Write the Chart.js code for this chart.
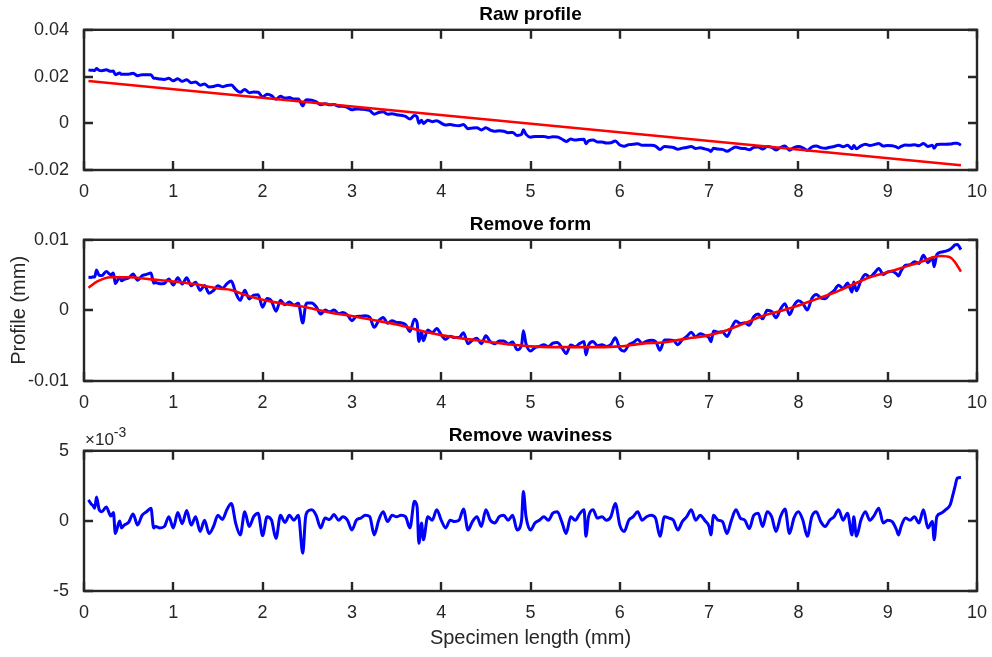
<!DOCTYPE html>
<html>
<head>
<meta charset="utf-8">
<title>Surface profile filtering</title>
<script src="https://cdn.jsdelivr.net/npm/chart.js@4.4.1/dist/chart.umd.min.js"></script>
<style>
  html, body { margin: 0; padding: 0; background: #ffffff; }
  #fig { position: relative; width: 992px; height: 657px; overflow: hidden; background: #ffffff; }
  #fig canvas { position: absolute; left: 0; }
</style>
</head>
<body>
<div id="fig">
  <canvas id="rawChart" width="992" height="210" style="top:0px"></canvas>
  <canvas id="formChart" width="992" height="211" style="top:210px"></canvas>
  <canvas id="roughChart" width="992" height="236" style="top:421px"></canvas>
</div>
<script>
// Sampling positions along the specimen (mm)
const positionMM = [
  0.05,0.08,0.10,0.12,0.14,0.17,0.20,0.25,0.30,0.33,
  0.35,0.40,0.42,0.45,0.50,0.55,0.60,0.65,0.70,0.75,
  0.78,0.80,0.85,0.90,0.95,1.00,1.05,1.10,1.15,1.20,
  1.25,1.30,1.35,1.40,1.45,1.50,1.55,1.60,1.65,1.70,
  1.75,1.80,1.85,1.90,1.95,2.00,2.05,2.10,2.15,2.20,
  2.25,2.30,2.35,2.40,2.45,2.48,2.50,2.55,2.60,2.65,
  2.70,2.75,2.80,2.85,2.90,2.95,3.00,3.05,3.10,3.15,
  3.20,3.25,3.30,3.35,3.40,3.45,3.50,3.55,3.60,3.65,
  3.70,3.73,3.75,3.78,3.80,3.85,3.90,3.95,4.00,4.05,
  4.10,4.15,4.20,4.25,4.30,4.35,4.40,4.45,4.50,4.55,
  4.60,4.65,4.70,4.75,4.80,4.85,4.90,4.92,4.95,5.00,
  5.05,5.10,5.15,5.20,5.25,5.30,5.35,5.40,5.45,5.50,
  5.55,5.60,5.62,5.65,5.70,5.75,5.80,5.85,5.90,5.95,
  6.00,6.05,6.10,6.15,6.20,6.25,6.30,6.35,6.40,6.45,
  6.50,6.55,6.60,6.65,6.70,6.75,6.80,6.85,6.90,6.95,
  7.00,7.02,7.05,7.10,7.15,7.20,7.25,7.30,7.35,7.40,
  7.45,7.50,7.55,7.60,7.65,7.70,7.75,7.80,7.85,7.90,
  7.95,8.00,8.05,8.10,8.15,8.20,8.25,8.30,8.35,8.40,
  8.45,8.50,8.55,8.60,8.62,8.65,8.70,8.75,8.80,8.85,
  8.90,8.95,9.00,9.05,9.10,9.12,9.15,9.20,9.25,9.30,
  9.35,9.40,9.45,9.50,9.52,9.55,9.60,9.65,9.70,9.73,
  9.75,9.78,9.82
];

// Measured raw profile (mm)
const rawProfile = [
  0.02280,0.02265,0.02266,0.02257,0.02347,0.02263,0.02249,0.02286,0.02222,0.02236,
  0.02079,0.02150,0.02093,0.02102,0.02103,0.02139,0.02034,0.02080,0.02080,0.02081,
  0.01926,0.01926,0.01892,0.01877,0.01923,0.01819,0.01902,0.01796,0.01864,0.01733,
  0.01766,0.01631,0.01680,0.01555,0.01574,0.01624,0.01568,0.01614,0.01633,0.01447,
  0.01324,0.01448,0.01307,0.01341,0.01330,0.01134,0.01239,0.01183,0.01023,0.01157,
  0.01077,0.01098,0.01035,0.01041,0.00743,0.00976,0.01009,0.00992,0.00919,0.00797,
  0.00834,0.00792,0.00799,0.00730,0.00727,0.00673,0.00575,0.00614,0.00599,0.00588,
  0.00548,0.00387,0.00462,0.00491,0.00391,0.00405,0.00365,0.00340,0.00296,0.00181,
  0.00337,0.00276,0.00002,0.00128,-0.00005,0.00127,0.00070,0.00112,0.00005,-0.00078,
  -0.00052,-0.00090,-0.00109,-0.00057,-0.00234,-0.00200,-0.00192,-0.00288,-0.00195,-0.00296,
  -0.00343,-0.00324,-0.00341,-0.00402,-0.00392,-0.00521,-0.00476,-0.00280,-0.00475,-0.00595,
  -0.00565,-0.00565,-0.00561,-0.00606,-0.00577,-0.00585,-0.00674,-0.00777,-0.00676,-0.00719,
  -0.00693,-0.00681,-0.00879,-0.00750,-0.00718,-0.00797,-0.00803,-0.00845,-0.00836,-0.00758,
  -0.00929,-0.00984,-0.00915,-0.00900,-0.00876,-0.00946,-0.00936,-0.00940,-0.00975,-0.01119,
  -0.00994,-0.01012,-0.01036,-0.01114,-0.01063,-0.01036,-0.00995,-0.01078,-0.01052,-0.01095,
  -0.01149,-0.01209,-0.01070,-0.01105,-0.01117,-0.01202,-0.01101,-0.01019,-0.01073,-0.01081,
  -0.01135,-0.01033,-0.01012,-0.01100,-0.00997,-0.01032,-0.01139,-0.01034,-0.00978,-0.01151,
  -0.01040,-0.00993,-0.01048,-0.01160,-0.01015,-0.00977,-0.01042,-0.01074,-0.01024,-0.00996,
  -0.00936,-0.01003,-0.00943,-0.01090,-0.00956,-0.01090,-0.00967,-0.00897,-0.00949,-0.00914,
  -0.00866,-0.00971,-0.00953,-0.00961,-0.01019,-0.01054,-0.00993,-0.00931,-0.00945,-0.00918,
  -0.00962,-0.00865,-0.00989,-0.00937,-0.01071,-0.00911,-0.00894,-0.00898,-0.00891,-0.00868,
  -0.00850,-0.00851,-0.00941
];

// Least-squares form line (mm)
const formLineX = [0.05, 9.82];
const formLineY = [0.0181, -0.0180];

// Profile after form removal (mm)
const formRemoved = [
  0.00470,0.00467,0.00475,0.00473,0.00571,0.00498,0.00495,0.00550,0.00505,0.00530,
  0.00380,0.00470,0.00420,0.00440,0.00460,0.00514,0.00428,0.00492,0.00511,0.00530,
  0.00386,0.00394,0.00378,0.00382,0.00446,0.00360,0.00462,0.00374,0.00461,0.00348,
  0.00400,0.00283,0.00351,0.00244,0.00282,0.00350,0.00313,0.00377,0.00415,0.00247,
  0.00143,0.00285,0.00163,0.00215,0.00223,0.00045,0.00168,0.00131,-0.00011,0.00142,
  0.00080,0.00120,0.00075,0.00100,-0.00180,0.00064,0.00105,0.00106,0.00052,-0.00052,
  0.00004,-0.00020,0.00005,-0.00045,-0.00030,-0.00065,-0.00145,-0.00087,-0.00084,-0.00076,
  -0.00098,-0.00240,-0.00147,-0.00099,-0.00181,-0.00148,-0.00170,-0.00176,-0.00202,-0.00298,
  -0.00124,-0.00174,-0.00440,-0.00303,-0.00429,-0.00278,-0.00317,-0.00256,-0.00345,-0.00410,
  -0.00365,-0.00385,-0.00385,-0.00315,-0.00473,-0.00421,-0.00394,-0.00472,-0.00360,-0.00443,
  -0.00471,-0.00434,-0.00432,-0.00475,-0.00446,-0.00557,-0.00493,-0.00290,-0.00474,-0.00575,
  -0.00527,-0.00509,-0.00486,-0.00513,-0.00465,-0.00455,-0.00525,-0.00610,-0.00490,-0.00515,
  -0.00470,-0.00440,-0.00630,-0.00490,-0.00440,-0.00500,-0.00488,-0.00511,-0.00484,-0.00387,
  -0.00540,-0.00577,-0.00489,-0.00456,-0.00413,-0.00465,-0.00436,-0.00422,-0.00438,-0.00564,
  -0.00420,-0.00420,-0.00425,-0.00485,-0.00415,-0.00370,-0.00310,-0.00375,-0.00330,-0.00355,
  -0.00390,-0.00443,-0.00293,-0.00310,-0.00303,-0.00370,-0.00250,-0.00150,-0.00185,-0.00175,
  -0.00210,-0.00090,-0.00050,-0.00120,0.00002,-0.00015,-0.00103,0.00020,0.00095,-0.00060,
  0.00070,0.00135,0.00098,0.00005,0.00168,0.00225,0.00178,0.00165,0.00233,0.00280,
  0.00358,0.00310,0.00388,0.00260,0.00401,0.00278,0.00420,0.00508,0.00475,0.00528,
  0.00595,0.00508,0.00545,0.00555,0.00515,0.00488,0.00560,0.00640,0.00645,0.00690,
  0.00665,0.00780,0.00675,0.00745,0.00619,0.00790,0.00825,0.00840,0.00865,0.00899,
  0.00925,0.00935,0.00860
];

// Waviness (long-wavelength) component (mm)
const wavinessX = [
  0.05,0.15,0.30,0.50,0.75,1.00,1.25,1.50,1.65,1.80,
  2.00,2.25,2.50,2.75,3.00,3.25,3.50,3.75,4.00,4.25,
  4.50,4.75,5.00,5.25,5.50,5.75,6.00,6.25,6.50,6.75,
  7.00,7.20,7.40,7.60,7.80,8.00,8.20,8.40,8.60,8.80,
  9.00,9.20,9.40,9.50,9.60,9.70,9.75,9.82
];
const wavinessY = [
  0.0032,0.0041,0.0047,0.0047,0.0044,0.0041,0.0037,0.0031,0.0029,0.0022,
  0.0015,0.0009,0.0004,-0.0003,-0.0008,-0.0014,-0.0020,-0.0028,-0.0035,-0.0040,
  -0.0044,-0.0048,-0.0051,-0.0052,-0.0052,-0.0052,-0.0051,-0.0047,-0.0045,-0.0040,
  -0.0035,-0.0028,-0.0018,-0.0008,-0.0001,0.0007,0.0016,0.0025,0.0036,0.0047,
  0.0054,0.0062,0.0070,0.0075,0.0077,0.0075,0.0069,0.0055
];

// Roughness after waviness removal (x 10^-3 mm)
const roughness = [
  1.5,1.2,1.1,0.9,1.7,0.8,0.65,1.0,0.35,0.6,
  -0.9,0.0,-0.5,-0.3,-0.1,0.5,-0.3,0.4,0.65,0.9,
  -0.5,-0.4,-0.5,-0.4,0.3,-0.5,0.6,-0.2,0.75,-0.3,
  0.3,-0.75,0.05,-0.9,-0.4,0.4,0.1,0.8,1.25,-0.2,
  -1.0,0.65,-0.4,0.3,0.55,-1.05,0.3,0.05,-1.25,0.4,
  -0.1,0.4,0.05,0.4,-2.3,0.2,0.65,0.8,0.4,-0.5,
  0.2,0.1,0.45,0.05,0.3,0.05,-0.65,0.05,0.2,0.4,
  0.3,-1.0,0.05,0.65,-0.05,0.4,0.3,0.4,0.3,-0.5,
  1.4,1.0,-1.6,-0.15,-1.35,0.3,0.05,0.8,0.05,-0.5,
  0.05,-0.05,0.05,0.85,-0.65,-0.05,0.3,-0.4,0.8,0.05,
  -0.15,0.3,0.4,0.05,0.4,-0.65,0.05,2.1,0.3,-0.65,
  -0.15,0.05,0.3,0.05,0.55,0.65,-0.05,-0.9,0.3,0.05,
  0.5,0.8,-1.1,0.3,0.8,0.2,0.3,0.05,0.3,1.25,
  -0.3,-0.75,0.05,0.3,0.65,0.05,0.3,0.4,0.2,-1.1,
  0.3,0.2,0.05,-0.65,-0.05,0.3,0.8,0.05,0.4,0.05,
  -0.4,-1.0,0.4,0.05,-0.05,-0.9,0.05,0.8,0.2,0.05,
  -0.55,0.4,0.55,-0.4,0.65,0.3,-0.75,0.3,0.85,-0.9,
  0.2,0.65,0.05,-1.1,0.3,0.65,-0.05,-0.4,0.05,0.3,
  0.8,0.05,0.55,-1.0,0.3,-1.1,0.05,0.65,0.05,0.4,
  0.9,-0.15,0.05,-0.05,-0.65,-1.0,-0.4,0.2,0.05,0.3,
  -0.15,0.8,-0.5,-0.05,-1.35,0.3,0.55,0.8,1.15,1.85,
  2.35,3.05,3.1
];

// Axis ticks and labels
const xTicks = [0, 1, 2, 3, 4, 5, 6, 7, 8, 9, 10];
const rawTicks = [-0.02, 0, 0.02, 0.04];
const rawTickLabels = ['-0.02', '0', '0.02', '0.04'];
const formTicks = [-0.01, 0, 0.01];
const formTickLabels = ['-0.01', '0', '0.01'];
const roughTicks = [-5, 0, 5];
const roughTickLabels = ['-5', '0', '5'];

const INK = '#262626';
const FONT = '"Liberation Sans", Arial, Helvetica, sans-serif';
const Y_AXIS_WIDTH = 84;
const RIGHT_GAP = 15;
const TICK_LEN = 9;

Chart.defaults.font.family = FONT;

function pairs(xs, ys) {
  return xs.map((x, i) => ({ x: x, y: ys[i] }));
}

// Box around the plot area with inward tick marks on all four sides
const boxFrame = {
  id: 'boxFrame',
  afterDraw(chart) {
    const { ctx, chartArea: a, scales } = chart;
    const xs = scales.x, ys = scales.y;
    ctx.save();
    ctx.strokeStyle = INK;
    ctx.lineWidth = 2.4;
    ctx.lineCap = 'butt';
    ctx.beginPath();
    xs.ticks.forEach(t => {
      const px = Math.round(xs.getPixelForValue(t.value));
      ctx.moveTo(px, a.bottom); ctx.lineTo(px, a.bottom - TICK_LEN);
      ctx.moveTo(px, a.top); ctx.lineTo(px, a.top + TICK_LEN);
    });
    ys.ticks.forEach(t => {
      const py = Math.round(ys.getPixelForValue(t.value));
      ctx.moveTo(a.left, py); ctx.lineTo(a.left + TICK_LEN, py);
      ctx.moveTo(a.right, py); ctx.lineTo(a.right - TICK_LEN, py);
    });
    ctx.stroke();
    ctx.strokeRect(a.left, a.top, a.right - a.left, a.bottom - a.top);
    ctx.restore();
  }
};

// Exponent note above the roughness axis
const exponentNote = {
  id: 'exponentNote',
  afterDraw(chart) {
    const { ctx, chartArea: a } = chart;
    ctx.save();
    ctx.fillStyle = INK;
    ctx.textAlign = 'left';
    ctx.textBaseline = 'alphabetic';
    ctx.font = '17px ' + FONT;
    const base = '\u00D710';
    ctx.fillText(base, a.left + 1, a.top - 6);
    const w = ctx.measureText(base).width;
    ctx.font = '14px ' + FONT;
    ctx.fillText('-3', a.left + 1 + w, a.top - 14);
    ctx.restore();
  }
};

function buildOptions(cfg) {
  return {
    responsive: false,
    animation: false,
    events: [],
    layout: { padding: { left: 0, right: RIGHT_GAP, top: 0, bottom: 0 } },
    elements: { point: { radius: 0 } },
    plugins: {
      legend: { display: false },
      tooltip: { enabled: false },
      title: {
        display: true,
        text: cfg.title,
        fullSize: false,
        color: '#000000',
        font: { size: 19, weight: 'bold' },
        padding: { top: 3, bottom: 4 }
      }
    },
    scales: {
      x: {
        type: 'linear',
        min: 0,
        max: 10,
        grid: { display: false },
        border: { display: false },
        afterBuildTicks: s => { s.ticks = xTicks.map(v => ({ value: v })); },
        afterFit: s => { s.height = cfg.xAxisHeight; s.paddingLeft = 0; s.paddingRight = 0; },
        ticks: {
          color: INK,
          font: { size: 18 },
          padding: 3,
          maxRotation: 0,
          autoSkip: false,
          callback: (v, i) => String(xTicks[i])
        },
        title: cfg.xTitle ? {
          display: true,
          text: cfg.xTitle,
          color: INK,
          font: { size: 20 },
          padding: { top: 2, bottom: 7 }
        } : { display: false }
      },
      y: {
        type: 'linear',
        min: cfg.yMin,
        max: cfg.yMax,
        grid: { display: false },
        border: { display: false },
        afterBuildTicks: s => { s.ticks = cfg.yTicks.map(v => ({ value: v })); },
        afterFit: s => { s.width = Y_AXIS_WIDTH; s.paddingTop = 0; s.paddingBottom = 0; },
        ticks: {
          color: INK,
          font: { size: 18 },
          padding: 7,
          autoSkip: false,
          callback: (v, i) => cfg.yLabels[i]
        },
        title: cfg.yTitle ? {
          display: true,
          text: cfg.yTitle,
          color: INK,
          font: { size: 20 },
          padding: { top: 7, bottom: 2 }
        } : { display: false }
      }
    }
  };
}

const blueLine = { borderColor: '#0000FF', borderWidth: 3, pointRadius: 0, fill: false, cubicInterpolationMode: 'monotone', borderJoinStyle: 'round' };
const redLine = { borderColor: '#FF0000', borderWidth: 2.6, pointRadius: 0, fill: false };

new Chart(document.getElementById('rawChart'), {
  type: 'line',
  data: {
    datasets: [
      Object.assign({ label: 'Form', data: pairs(formLineX, formLineY), order: 0 }, redLine),
      Object.assign({ label: 'Raw profile', data: pairs(positionMM, rawProfile), order: 1 }, blueLine)
    ]
  },
  options: buildOptions({
    title: 'Raw profile', yMin: -0.02, yMax: 0.04,
    yTicks: rawTicks, yLabels: rawTickLabels, xAxisHeight: 40
  }),
  plugins: [boxFrame]
});

new Chart(document.getElementById('formChart'), {
  type: 'line',
  data: {
    datasets: [
      Object.assign({ label: 'Waviness', data: pairs(wavinessX, wavinessY), order: 0, cubicInterpolationMode: 'monotone' }, redLine),
      Object.assign({ label: 'Form removed', data: pairs(positionMM, formRemoved), order: 1 }, blueLine)
    ]
  },
  options: buildOptions({
    title: 'Remove form', yMin: -0.01, yMax: 0.01,
    yTicks: formTicks, yLabels: formTickLabels, xAxisHeight: 40,
    yTitle: 'Profile (mm)'
  }),
  plugins: [boxFrame]
});

new Chart(document.getElementById('roughChart'), {
  type: 'line',
  data: {
    datasets: [
      Object.assign({ label: 'Roughness', data: pairs(positionMM, roughness), order: 0 }, blueLine)
    ]
  },
  options: buildOptions({
    title: 'Remove waviness', yMin: -5, yMax: 5,
    yTicks: roughTicks, yLabels: roughTickLabels, xAxisHeight: 66,
    xTitle: 'Specimen length (mm)'
  }),
  plugins: [boxFrame, exponentNote]
});
</script>
</body>
</html>
